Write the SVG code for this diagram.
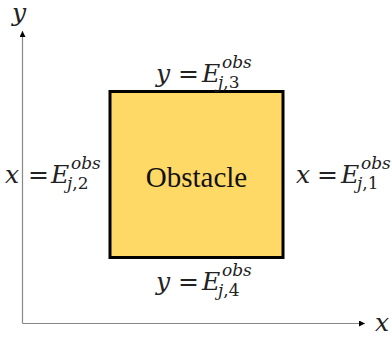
<svg xmlns="http://www.w3.org/2000/svg" width="392" height="340" viewBox="0 0 392 340">
<defs>
<marker id="ah" viewBox="0 0 10 10" refX="10" refY="5" markerWidth="6" markerHeight="6" markerUnits="userSpaceOnUse" orient="auto">
<path d="M0,0 L10,5 L0,10 z" fill="#000"/>
</marker>
<style>
.ax{stroke:#888;stroke-width:1.2;fill:none}
.m{font-family:"DejaVu Serif",serif;font-style:italic;font-size:25px;fill:#222}
.eq{font-family:"DejaVu Sans",sans-serif;font-style:normal;font-size:25px;fill:#222}
.s{font-family:"DejaVu Serif",serif;font-style:italic;font-size:17px;fill:#222}
.sn{font-family:"DejaVu Serif",serif;font-style:normal;font-size:17px;fill:#222}
.lbl{font-family:"Liberation Serif",serif;font-size:29px;fill:#111}
</style>
</defs>
<rect width="392" height="340" fill="#fff"/>
<g id="connectors">
<line class="ax" x1="22.5" y1="323.5" x2="22.5" y2="31" marker-end="url(#ah)"/>
<line class="ax" x1="22.5" y1="323.5" x2="365" y2="323.5" marker-end="url(#ah)"/>
</g>
<g id="axis-y-label"><text class="m" x="12" y="21">y</text></g>
<g id="axis-x-label"><text class="m" x="375" y="331">x</text></g>
<g id="obstacle">
<rect x="110" y="91.5" width="173" height="166" fill="#FFD966" stroke="#000" stroke-width="3"/>
<text class="lbl" font-family="Liberation Serif, serif" x="196.5" y="187" text-anchor="middle">Obstacle</text>
</g>
<g id="label-top">
<text class="m" x="156" y="82">y</text>
<text class="eq" x="178" y="82">=</text>
<text class="m" x="202" y="82">E</text>
<text class="s" x="222" y="68">obs</text>
<text class="s" x="218" y="88">j<tspan class="sn">,3</tspan></text>
</g>
<g id="label-left">
<text class="m" x="5" y="183">x</text>
<text class="eq" x="28" y="183">=</text>
<text class="m" x="51" y="183">E</text>
<text class="s" x="71" y="169">obs</text>
<text class="s" x="67" y="189">j<tspan class="sn">,2</tspan></text>
</g>
<g id="label-right">
<text class="m" x="296" y="183">x</text>
<text class="eq" x="317" y="183">=</text>
<text class="m" x="341" y="183">E</text>
<text class="s" x="361" y="169">obs</text>
<text class="s" x="357" y="189">j<tspan class="sn">,1</tspan></text>
</g>
<g id="label-bottom">
<text class="m" x="156" y="290">y</text>
<text class="eq" x="178" y="290">=</text>
<text class="m" x="202" y="290">E</text>
<text class="s" x="222" y="276">obs</text>
<text class="s" x="218" y="296">j<tspan class="sn">,4</tspan></text>
</g>
</svg>
